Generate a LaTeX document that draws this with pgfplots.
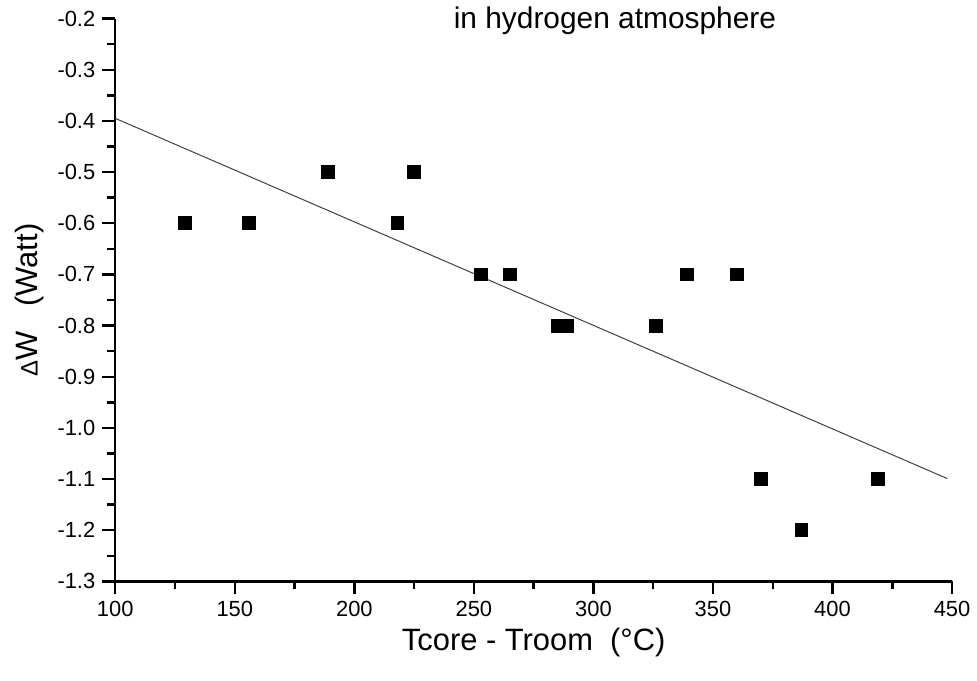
\documentclass[border=0pt]{standalone}
\usepackage{fontspec}
\setmainfont{Liberation Sans}
\usepackage{pgfplots}
\pgfplotsset{compat=1.18}

\begin{document}
\begin{tikzpicture}
\begin{axis}[
    scale only axis,
    width=420pt, height=282.5pt,
    xmin=100, xmax=450,
    ymin=-1.3, ymax=-0.2,
    axis x line=bottom, axis y line=left,
    axis line style={-, line width=1.2pt},
    tick align=outside,
    major tick length=6.5pt, minor tick length=4pt,
    every tick/.style={black, line width=1.2pt},
    xtick={100,150,...,450},
    ytick={-1.3,-1.2,...,-0.2},
    minor tick num=1,
    tick label style={font=\fontsize{11}{13}\selectfont},
    /pgf/number format/assume math mode=true,
    yticklabel style={/pgf/number format/.cd, fixed, fixed zerofill, precision=1},
    xticklabel style={/pgf/number format/.cd, fixed, precision=0},
    xlabel={Tcore - Troom\ \ (°C)},
    ylabel={{\fontsize{12}{14}\selectfont Δ}W\hspace{0.8em}(Watt)},
    label style={font=\fontsize{15.5}{18}\selectfont},
    xlabel style={at={([yshift=-30.5pt]axis description cs:0.5,0)}, anchor=center},
    ylabel style={at={([xshift=-43pt]axis description cs:0,0.5)}, anchor=center},
    clip=false,
]
\addplot[only marks, mark=square*, mark size=3.2pt, black] coordinates {
    (129,-0.6) (156,-0.6) (189,-0.5) (218,-0.6) (225,-0.5)
    (253,-0.7) (265,-0.7) (285,-0.8) (289,-0.8) (326,-0.8)
    (339,-0.7) (360,-0.7) (370,-1.1) (387,-1.2) (419,-1.1)
};
\addplot[black!75, line width=0.5pt] coordinates {(100,-0.395) (448,-1.099)};
\node[font=\fontsize{15}{18}\selectfont, anchor=center] at ([yshift=-1pt]axis cs:309,-0.2) {in hydrogen atmosphere};
\end{axis}
\path[use as bounding box] ([xshift=-57.85pt, yshift=-49.5pt]current axis.south west) rectangle ++(488.5pt,340.5pt);
\end{tikzpicture}
\end{document}
